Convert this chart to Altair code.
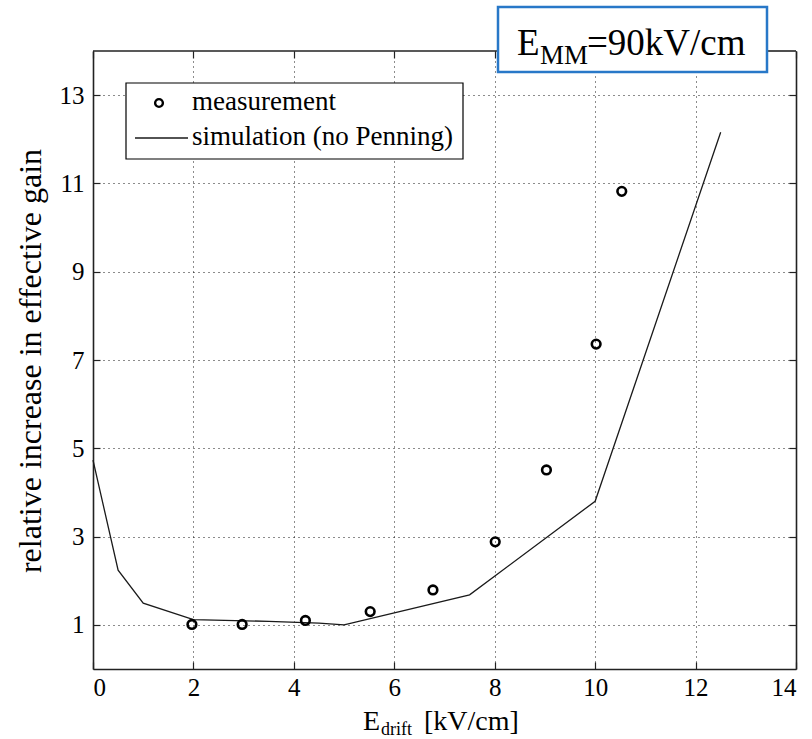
import altair as alt
import pandas as pd

# ---- data ----
meas_x = [1.97, 2.97, 4.23, 5.52, 6.77, 8.01, 9.03, 10.02, 10.53]
meas_y = [1.01, 1.01, 1.10, 1.30, 1.79, 2.88, 4.51, 7.36, 10.82]
sim_x = [0.0, 0.5, 1.0, 2.0, 3.5, 4.5, 5.0, 7.5, 10.0, 12.5]
sim_y = [4.73, 2.24, 1.49, 1.12, 1.08, 1.04, 1.00, 1.68, 3.80, 12.16]
x_ticks = [0, 2, 4, 6, 8, 10, 12, 14]
y_ticks = [1, 3, 5, 7, 9, 11, 13]
x_domain = [0, 14]
y_domain = [0, 14]

meas = pd.DataFrame({"x": meas_x, "y": meas_y})
sim = pd.DataFrame({"x": sim_x, "y": sim_y})

FONT = "Liberation Serif"
W, H = 703, 618
xs = alt.Scale(domain=x_domain, nice=False, zero=False)
ys = alt.Scale(domain=y_domain, nice=False, zero=False)

def main_axis(values, orient, pad):
    return alt.Axis(values=values, orient=orient, title=None, grid=True,
                    gridDash=[1, 4], gridColor="#000000", gridWidth=1, gridOpacity=0.9,
                    tickSize=0, labelFont=FONT, labelFontSize=25, labelColor="#000000",
                    labelPadding=pad, domain=True, domainColor="#222222", domainWidth=1.6)

def frame_axis(values, orient):
    return alt.Axis(values=values, orient=orient, title=None, grid=False, labels=False,
                    ticks=False, domain=True, domainColor="#222222", domainWidth=1.6)

def tick_axis(values, orient):
    return alt.Axis(values=values, orient=orient, title=None, grid=False, labels=False,
                    ticks=True, tickSize=7, tickColor="#222222", tickWidth=1.2,
                    domain=False, offset=-7)

line = alt.Chart(sim).mark_line(color="#1a1a1a", strokeWidth=1.3).encode(
    x=alt.X("x:Q", scale=xs, axis=main_axis(x_ticks, "bottom", 6)),
    y=alt.Y("y:Q", scale=ys, axis=main_axis(y_ticks, "left", 9)),
)

points = alt.Chart(meas).mark_point(shape="circle", filled=False, color="#000000",
                                    size=75, strokeWidth=2.6, opacity=1).encode(
    x=alt.X("x:Q", scale=xs, axis=alt.Axis(values=x_ticks, orient="top", title=None, grid=False,
                                           labels=False, ticks=False, domain=False)),
    y=alt.Y("y:Q", scale=ys, axis=frame_axis(y_ticks, "right")),
)

ghost1 = alt.Chart(meas).mark_point(opacity=0).encode(
    x=alt.X("x:Q", scale=xs, axis=tick_axis(x_ticks, "bottom")),
    y=alt.Y("y:Q", scale=ys, axis=tick_axis(y_ticks, "left")),
)
ghost2 = alt.Chart(meas).mark_point(opacity=0).encode(
    x=alt.X("x:Q", scale=xs, axis=tick_axis(x_ticks, "top")),
    y=alt.Y("y:Q", scale=ys, axis=tick_axis(y_ticks, "right")),
)

base = alt.Chart(pd.DataFrame({"a": [0]}))

# top frame, split around the annotation box
top_frame = alt.layer(
    base.mark_rule(color="#222222", strokeWidth=1.6).encode(
        x=alt.value(0), x2=alt.value(405), y=alt.value(0)),
    base.mark_rule(color="#222222", strokeWidth=1.6).encode(
        x=alt.value(674), x2=alt.value(W), y=alt.value(0)),
)

# legend
legend = alt.layer(
    base.mark_rect(fill="white", stroke="#000000", strokeWidth=1.2).encode(
        x=alt.value(33), x2=alt.value(370), y=alt.value(32), y2=alt.value(108)),
    base.mark_point(shape="circle", filled=False, color="#000000", size=60,
                    strokeWidth=2.4, opacity=1).encode(x=alt.value(66), y=alt.value(52)),
    base.mark_text(text="measurement", font=FONT, fontSize=27, align="left",
                   baseline="middle", color="#000000").encode(x=alt.value(99), y=alt.value(51)),
    base.mark_rule(color="#1a1a1a", strokeWidth=1.3).encode(
        x=alt.value(42), x2=alt.value(95), y=alt.value(87)),
    base.mark_text(text="simulation (no Penning)", font=FONT, fontSize=27, align="left",
                   baseline="middle", color="#000000").encode(x=alt.value(99), y=alt.value(86)),
)

# E_MM annotation box
box = alt.layer(
    base.mark_rect(fill="white", stroke="#2878c8", strokeWidth=2.5).encode(
        x=alt.value(405), x2=alt.value(674), y=alt.value(-44), y2=alt.value(21)),
    base.mark_text(text="E", font=FONT, fontSize=37, align="left", baseline="alphabetic",
                   color="#000000").encode(x=alt.value(424), y=alt.value(4)),
    base.mark_text(text="MM", font=FONT, fontSize=27, align="left", baseline="alphabetic",
                   color="#000000").encode(x=alt.value(447), y=alt.value(13)),
    base.mark_text(text="=90kV/cm", font=FONT, fontSize=37, align="left", baseline="alphabetic",
                   color="#000000").encode(x=alt.value(494), y=alt.value(4)),
)

# axis titles
titles = alt.layer(
    base.mark_text(text="relative increase in effective gain", font=FONT, fontSize=32,
                   angle=270, align="center", baseline="middle", color="#000000").encode(
        x=alt.value(-62), y=alt.value(310)),
    base.mark_text(text="E", font=FONT, fontSize=28, align="left", baseline="alphabetic",
                   color="#000000").encode(x=alt.value(270), y=alt.value(679)),
    base.mark_text(text="drift", font=FONT, fontSize=18, align="left", baseline="alphabetic",
                   color="#000000").encode(x=alt.value(288), y=alt.value(684)),
    base.mark_text(text="[kV/cm]", font=FONT, fontSize=28, align="left", baseline="alphabetic",
                   color="#000000").encode(x=alt.value(331), y=alt.value(679)),
)

chart = alt.layer(
    line, points, ghost1, ghost2, top_frame, legend, box, titles
).resolve_axis(x="independent", y="independent").properties(
    width=W, height=H,
    autosize="none",
    padding={"left": 93, "top": 51, "right": 16, "bottom": 70},
    background="white",
).configure_view(stroke="transparent")

chart.save("out.html", embed_options={"renderer": "svg", "actions": False})
